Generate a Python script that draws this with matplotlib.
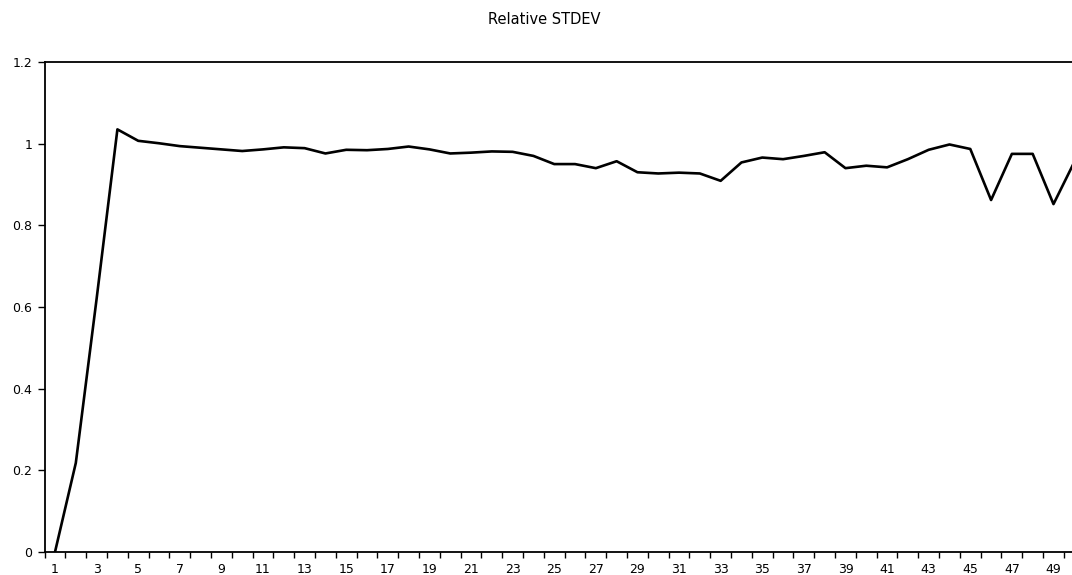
import numpy as np
import matplotlib
matplotlib.use("Agg")
import matplotlib.pyplot as plt

# Relative STDEV per step
steps = list(range(1, 51))
rel_stdev = [
    0.000, 0.218, 0.620, 1.035, 1.007, 1.001, 0.994, 0.990, 0.986, 0.982,
    0.986, 0.991, 0.989, 0.976, 0.985, 0.984, 0.987, 0.993, 0.986, 0.976,
    0.978, 0.981, 0.980, 0.970, 0.950, 0.950, 0.940, 0.957, 0.930, 0.927,
    0.929, 0.927, 0.909, 0.954, 0.966, 0.962, 0.970, 0.979, 0.940, 0.946,
    0.942, 0.962, 0.985, 0.998, 0.987, 0.862, 0.975, 0.975, 0.852, 0.955,
]
yticks = [0, 0.2, 0.4, 0.6, 0.8, 1, 1.2]
ytick_labels = ["0", "0.2", "0.4", "0.6", "0.8", "1", "1.2"]

plt.rcParams['font.family'] = ['DejaVu Sans']

W, H = 1072, 575
fig = plt.figure(figsize=(W / 100, H / 100), dpi=100)

# plot area runs off the right edge, like the cropped scan
left_px, right_px, top_px, bottom_px = 44.6, 1072, 62, 552
ax = fig.add_axes([left_px / W, (H - bottom_px) / H,
                   (right_px - left_px) / W, (bottom_px - top_px) / H])

ax.plot(steps, rel_stdev, color='black', linewidth=1.9)

ax.set_xlim(0.5, 49.89)
ax.set_ylim(0, 1.2)

ax.set_yticks(yticks)
ax.set_yticklabels(ytick_labels)

# labels on odd categories, tick marks between categories
ax.set_xticks(steps[::2])
ax.set_xticklabels([str(s) for s in steps[::2]])
ax.set_xticks(np.arange(0.5, 50.5, 1), minor=True)
ax.tick_params(axis='x', which='major', length=0, pad=8, labelsize=9)
ax.tick_params(axis='x', which='minor', length=4, width=1, direction='out')
ax.tick_params(axis='y', length=5, width=1, direction='out', pad=4, labelsize=9)

for side in ['left', 'bottom', 'top']:
    ax.spines[side].set_linewidth(1.3)
ax.spines['right'].set_visible(False)

fig.text(544 / W, 1 - 19 / H, "Relative STDEV", ha='center', va='center',
         fontsize=10.5)

fig.savefig("out.png", dpi=100)
